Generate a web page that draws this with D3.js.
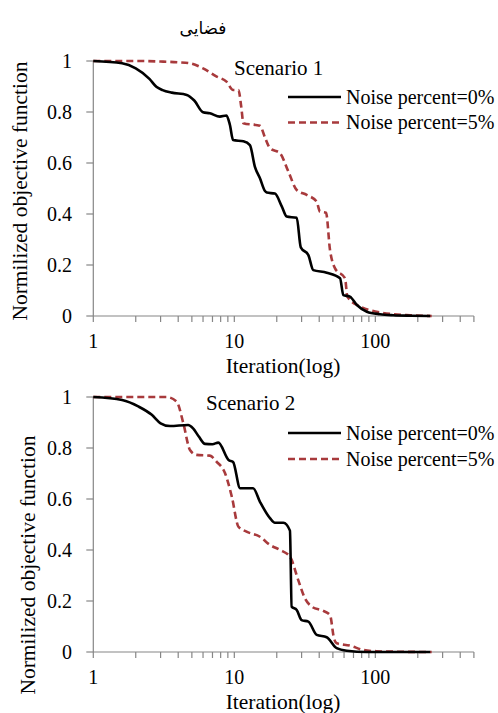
<!DOCTYPE html>
<html>
<head>
<meta charset="utf-8">
<script src="https://cdn.jsdelivr.net/npm/d3@7"></script>
<style>
  body { margin: 0; background: #fff; }
  svg { display: block; }
</style>
</head>
<body>
<svg id="chart" width="498" height="713"></svg>
<script>
'use strict';

// scenario 1
const s1_iter_0 = [1, 1.6, 2.0, 2.5, 2.8, 3.1, 3.6, 4.6, 5.2, 6.0, 6.7, 7.9, 8.8, 9.3, 9.8, 11.6, 12.9, 14.0, 15.2, 16.5, 17, 19.4, 21.7, 23.5, 27.7, 29.6, 33.5, 36.3, 45.2, 56.2, 59.3, 66, 74, 87, 108, 134, 180, 245];
const s1_val_0  = [1, 0.991, 0.971, 0.93, 0.899, 0.886, 0.876, 0.867, 0.845, 0.799, 0.795, 0.782, 0.786, 0.75, 0.69, 0.685, 0.67, 0.585, 0.54, 0.49, 0.484, 0.48, 0.43, 0.39, 0.385, 0.269, 0.239, 0.18, 0.17, 0.148, 0.082, 0.076, 0.043, 0.017, 0.007, 0.003, 0.001, 0];
const s1_iter_5 = [1, 2, 3, 4, 4.85, 6.0, 7.5, 8.8, 9.8, 10.7, 11.2, 11.6, 15.2, 16.5, 17.9, 21.1, 24.2, 27.7, 32.6, 38.4, 40.5, 44.7, 47.7, 51.8, 61, 63.3, 78, 102, 134, 176, 251];
const s1_val_5  = [1, 1, 0.998, 0.995, 0.991, 0.971, 0.939, 0.919, 0.886, 0.886, 0.82, 0.756, 0.746, 0.7, 0.658, 0.638, 0.566, 0.494, 0.475, 0.448, 0.409, 0.405, 0.259, 0.187, 0.148, 0.076, 0.037, 0.017, 0.007, 0.003, 0];

// scenario 2
const s2_iter_0 = [1, 1.6, 2.1, 2.6, 3.0, 3.5, 4.7, 5.1, 5.6, 6.2, 7.0, 7.7, 9.1, 9.8, 11, 13.6, 15.2, 17.9, 19.4, 22.3, 24.8, 25.5, 27.7, 30, 33.5, 38.4, 45.2, 53.2, 62.7, 87, 150, 245];
const s2_val_0  = [1, 0.988, 0.962, 0.93, 0.897, 0.886, 0.89, 0.877, 0.845, 0.816, 0.815, 0.821, 0.753, 0.745, 0.642, 0.642, 0.589, 0.525, 0.507, 0.507, 0.476, 0.178, 0.165, 0.125, 0.119, 0.067, 0.058, 0.015, 0.005, 0, 0, 0];
const s2_iter_5 = [1, 2, 3.3, 3.9, 4.35, 4.85, 5.4, 6.7, 7.5, 8.6, 9.6, 10.7, 12.2, 15.2, 17.9, 21.1, 24.8, 28.4, 31.7, 35.4, 42.8, 47.7, 50.9, 53.2, 66, 82, 102, 150, 251];
const s2_val_5  = [1, 1, 1, 0.982, 0.897, 0.792, 0.773, 0.77, 0.746, 0.701, 0.609, 0.491, 0.472, 0.452, 0.42, 0.4, 0.374, 0.282, 0.21, 0.178, 0.161, 0.145, 0.054, 0.034, 0.025, 0.008, 0.003, 0.001, 0];

const y_ticks = [0, 0.2, 0.4, 0.6, 0.8, 1];
const x_major = [1, 10, 100];
const x_minor = [2, 3, 4, 5, 6, 7, 8, 9, 20, 30, 40, 50, 60, 70, 80, 90, 200, 300, 400, 500];
const legend_labels = ['Noise percent=0%', 'Noise percent=5%'];
const scenario_labels = ['Scenario 1', 'Scenario 2'];
const title_text = 'فضایی';

const serif = '"Liberation Serif", "DejaVu Serif", serif';
const svg = d3.select('#chart');
const axis_color = '#868686';
const red = '#A83A3C';

const x = d3.scaleLog().domain([1, 500]).range([93.3, 473.9]);

// small helper so every label gets the same font
const label = (sel, size) => sel.style('font-family', serif).style('font-size', size + 'px').attr('fill', '#000');

svg.append('text')
    .attr('x', 203).attr('y', 34)
    .attr('text-anchor', 'middle')
    .style('font-family', '"DejaVu Sans", sans-serif')
    .style('font-size', '17px')
    .text(title_text);

const draw_panel = (p) => {
    const y = d3.scaleLinear().domain([0, 1]).range([p.bottom, p.top]);
    const g = svg.append('g');

    // y axis
    g.append('line')
        .attr('x1', x(1)).attr('x2', x(1))
        .attr('y1', y(0)).attr('y2', y(1))
        .attr('stroke', axis_color).attr('stroke-width', 1.2);
    g.selectAll('.ytick').data(y_ticks).join('line')
        .attr('x1', x(1) - 7).attr('x2', x(1))
        .attr('y1', d => y(d)).attr('y2', d => y(d))
        .attr('stroke', axis_color).attr('stroke-width', 1.2);
    g.selectAll('.ylab').data(y_ticks).join('text')
        .attr('x', 72).attr('y', d => y(d))
        .attr('dy', '0.34em')
        .attr('text-anchor', 'end')
        .call(label, 20)
        .text(d => d3.format('')(d));

    // x axis
    g.append('line')
        .attr('x1', x(1)).attr('x2', x(500))
        .attr('y1', y(0)).attr('y2', y(0))
        .attr('stroke', axis_color).attr('stroke-width', 1.2);
    g.selectAll('.xtick').data(x_major.concat(x_minor)).join('line')
        .attr('x1', d => x(d)).attr('x2', d => x(d))
        .attr('y1', y(0)).attr('y2', y(0) + 6)
        .attr('stroke', axis_color).attr('stroke-width', 1.2);
    g.selectAll('.xlab').data(x_major).join('text')
        .attr('x', d => x(d)).attr('y', y(0) + 32)
        .attr('text-anchor', 'middle')
        .call(label, 20)
        .text(d => d);

    g.append('text')
        .attr('x', 283).attr('y', y(0) + 57)
        .attr('text-anchor', 'middle')
        .call(label, 21.5)
        .text('Iteration(log)');
    g.append('text')
        .attr('transform', `translate(${p.ylab_x},${p.ylab_y}) rotate(-90)`)
        .attr('text-anchor', 'middle')
        .call(label, 21.5)
        .text('Normilized objective function');

    // series
    const line = d3.line()
        .x(d => x(d[0]))
        .y(d => y(d[1]))
        .curve(d3.curveMonotoneX);

    g.append('path')
        .datum(d3.zip(p.iter_5, p.val_5))
        .attr('d', line)
        .attr('fill', 'none')
        .attr('stroke', red).attr('stroke-width', 2.6)
        .attr('stroke-dasharray', '7,4');
    g.append('path')
        .datum(d3.zip(p.iter_0, p.val_0))
        .attr('d', line)
        .attr('fill', 'none')
        .attr('stroke', '#000').attr('stroke-width', 2.6);

    g.append('text')
        .attr('x', p.scen_x).attr('y', p.scen_y)
        .call(label, 21)
        .text(p.scenario);

    // legend
    const leg = [[legend_labels[0], '#000', null], [legend_labels[1], red, '7,4']];
    leg.forEach(([txt, color, dash], i) => {
        const ly = p.leg_y + i * p.leg_gap;
        g.append('line')
            .attr('x1', 288).attr('x2', 341)
            .attr('y1', ly).attr('y2', ly)
            .attr('stroke', color).attr('stroke-width', 2.6)
            .attr('stroke-dasharray', dash);
        g.append('text')
            .attr('x', 346).attr('y', ly)
            .attr('dy', '0.34em')
            .call(label, 20)
            .text(txt);
    });
};

draw_panel({
    top: 61, bottom: 316,
    iter_0: s1_iter_0, val_0: s1_val_0, iter_5: s1_iter_5, val_5: s1_val_5,
    scenario: scenario_labels[0], scen_x: 234, scen_y: 75,
    leg_y: 97, leg_gap: 25.5,
    ylab_x: 27, ylab_y: 191
});
draw_panel({
    top: 397, bottom: 652,
    iter_0: s2_iter_0, val_0: s2_val_0, iter_5: s2_iter_5, val_5: s2_val_5,
    scenario: scenario_labels[1], scen_x: 206, scen_y: 410,
    leg_y: 433, leg_gap: 26,
    ylab_x: 35, ylab_y: 565
});
</script>
</body>
</html>
